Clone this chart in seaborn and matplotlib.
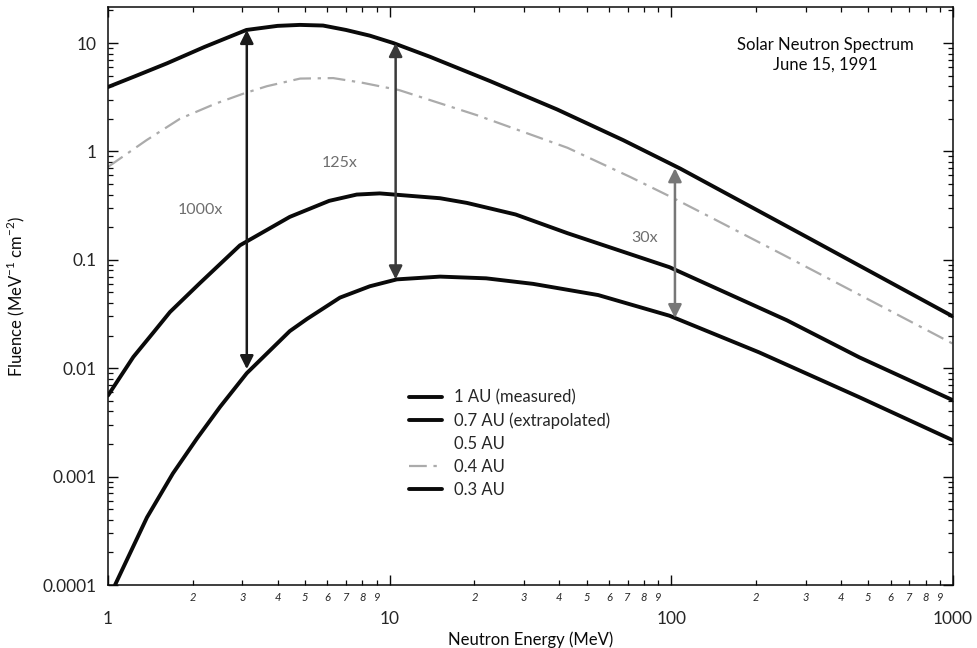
import numpy as np
import pandas as pd
import matplotlib
matplotlib.use("Agg")
import matplotlib.pyplot as plt
import matplotlib.ticker as mticker
import seaborn as sns

# ---------------- data ----------------
au1_x = [1.059, 1.375, 1.70, 2.07, 2.5, 3.11, 4.42, 5.09, 6.66, 8.5, 10.6, 15.1, 22, 32.3, 55,
         98.5, 205, 465, 1000]
au1_y = [0.0001, 0.00042, 0.00107, 0.00225, 0.0044, 0.009, 0.0220, 0.0285, 0.0448, 0.057, 0.066,
         0.070, 0.0675, 0.060, 0.0473, 0.0305, 0.0140, 0.0054, 0.00216]

au07_x = [1, 1.23, 1.45, 1.66, 2.12, 2.94, 4.42, 6.1, 7.64, 9.22, 15.1, 18.8, 28, 42.8, 98.5,
          257, 465, 1000]
au07_y = [0.0056, 0.0127, 0.0214, 0.033, 0.061, 0.136, 0.249, 0.35, 0.40, 0.41, 0.37, 0.335,
          0.262, 0.176, 0.0855, 0.0277, 0.0126, 0.00506]

au05_x = []
au05_y = []

au04_x = [1, 1.37, 1.8, 2.4, 3.06, 3.67, 4.81, 6.3, 8.0, 10.8, 20.4, 42.8, 71.4, 101, 129, 250,
          612, 1000]
au04_y = [0.72, 1.27, 2.0, 2.75, 3.45, 4.0, 4.7, 4.75, 4.3, 3.68, 2.16, 1.08, 0.582, 0.374, 0.27,
          0.111, 0.0328, 0.0168]

au03_x = [1, 1.25, 1.62, 2.2, 3.1, 4.0, 4.8, 5.8, 7.0, 8.5, 10.3, 13.9, 22.7, 39.3, 67.5, 107.5,
          303, 1000]
au03_y = [3.93, 4.95, 6.5, 9.2, 13.2, 14.4, 14.7, 14.5, 13.2, 11.7, 10.0, 7.47, 4.46, 2.44, 1.27,
          0.695, 0.162, 0.030]

series_labels = ["1 AU (measured)", "0.7 AU (extrapolated)", "0.5 AU", "0.4 AU", "0.3 AU"]

# ratio arrows
arrow_x = [3.11, 10.5, 103]
arrow_low = [0.0098, 0.066, 0.029]
arrow_high = [13.2, 10.0, 0.70]
arrow_text = ["1000x", "125x", "30x"]
arrow_text_x = [2.12, 6.66, 80.6]
arrow_text_y = [0.287, 0.78, 0.158]

x_major = [1, 10, 100, 1000]
y_major = [0.0001, 0.001, 0.01, 0.1, 1, 10]
y_major_labels = ["0.0001", "0.001", "0.01", "0.1", "1", "10"]

# ---------------- style ----------------
sns.set_style("ticks")
plt.rcParams["font.family"] = ["Lato", "DejaVu Sans"]
plt.rcParams["mathtext.fontset"] = "custom"
plt.rcParams["mathtext.rm"] = "Lato"

fig = plt.figure(figsize=(9.78, 6.48), dpi=100)
ax = fig.add_axes([108 / 978, 1 - 585 / 648, (953 - 108) / 978, (585 - 7) / 648])

black = "#0a0a0a"
styles = [
    dict(color=black, lw=2.8, ls="-"),
    dict(color=black, lw=2.8, ls="-"),
    dict(color="white", lw=2.8, ls="-"),
    dict(color="#ababab", lw=1.6, ls=(0, (8, 3, 1.5, 3))),
    dict(color=black, lw=2.8, ls="-"),
]
xs = [au1_x, au07_x, au05_x, au04_x, au03_x]
ys = [au1_y, au07_y, au05_y, au04_y, au03_y]

handles = []
for x, y, lab, st in zip(xs, ys, series_labels, styles):
    if len(x):
        df = pd.DataFrame({"E": x, "F": y})
        sns.lineplot(data=df, x="E", y="F", ax=ax, estimator=None, sort=False,
                     color=st["color"], lw=st["lw"], linestyle=st["ls"], legend=False)
    h, = ax.plot([], [], color=st["color"], lw=st["lw"], linestyle=st["ls"], label=lab)
    handles.append(h)

ax.set_xscale("log")
ax.set_yscale("log")
ax.set_xlim(1, 1000)
ax.set_ylim(0.0001, 21.5)

# arrows
arrow_colors = ["#1a1a1a", "#3a3a3a", "#777777"]
for xa, lo, hi, c in zip(arrow_x, arrow_low, arrow_high, arrow_colors):
    ax.annotate("", xy=(xa, hi), xytext=(xa, lo),
                arrowprops=dict(arrowstyle="<|-|>", color=c, lw=1.8,
                                mutation_scale=20, shrinkA=0, shrinkB=0))
for t, tx, ty in zip(arrow_text, arrow_text_x, arrow_text_y):
    ax.text(tx, ty, t, color="#6e6e6e", fontsize=11.5, ha="center", va="center")

# title text
fig.text(825 / 978, 1 - 55 / 648, "Solar Neutron Spectrum\nJune 15, 1991",
         ha="center", va="center", fontsize=12, color=black, linespacing=1.25)

# ticks
ax.xaxis.set_major_locator(mticker.FixedLocator(x_major))
ax.xaxis.set_major_formatter(mticker.FixedFormatter([str(v) for v in x_major]))
ax.xaxis.set_minor_locator(mticker.LogLocator(base=10, subs=np.arange(2, 10), numticks=20))
ax.xaxis.set_minor_formatter(mticker.FuncFormatter(
    lambda v, p: str(int(round(v / 10 ** np.floor(np.log10(v) + 1e-9))))))
ax.yaxis.set_major_locator(mticker.FixedLocator(y_major))
ax.yaxis.set_major_formatter(mticker.FixedFormatter(y_major_labels))
ax.yaxis.set_minor_locator(mticker.LogLocator(base=10, subs=np.arange(2, 10), numticks=20))
ax.yaxis.set_minor_formatter(mticker.NullFormatter())

ax.tick_params(axis="both", which="both", direction="in", top=True, right=True, color=black)
ax.tick_params(axis="both", which="major", length=7, width=1.0)
ax.tick_params(axis="both", which="minor", length=3.5, width=0.9)
ax.tick_params(axis="x", which="major", labelsize=12.5, pad=19)
ax.tick_params(axis="x", which="minor", labelsize=8, pad=5)
ax.tick_params(axis="y", which="major", labelsize=12.5, pad=8)
for lab in ax.xaxis.get_minorticklabels():
    lab.set_style("italic")

for s in ax.spines.values():
    s.set_visible(True)
    s.set_linewidth(1.1)
    s.set_color(black)

ax.set_xlabel("Neutron Energy (MeV)", fontsize=12, color=black, labelpad=3)
ax.set_ylabel("Fluence (MeV$^{-1}$ cm$^{-2}$)", fontsize=12, color=black)
ax.yaxis.set_label_coords(-0.096, 0.5)

ax.legend(handles=handles, loc="upper left", bbox_to_anchor=(0.356, 0.338),
          frameon=False, fontsize=12, handlelength=2.0, handletextpad=0.7,
          labelspacing=0.42, borderpad=0, borderaxespad=0)

fig.savefig("out.png", dpi=100)
